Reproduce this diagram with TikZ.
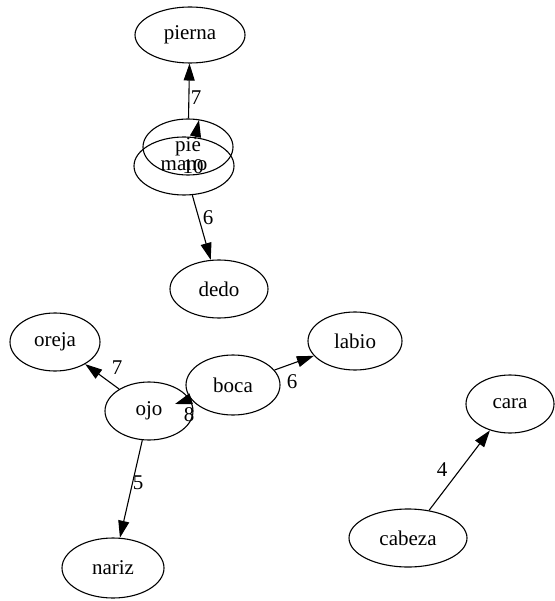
\documentclass[tikz,border=0pt]{standalone}
\usepackage{fontspec}
\setmainfont{Liberation Serif}
\usetikzlibrary{shapes.geometric,arrows.meta}
\begin{document}
\begin{tikzpicture}[x=1pt,y=-1pt,
  nd/.style={draw,ellipse,line width=1.1pt,inner sep=0pt,font=\fontsize{21}{24}\selectfont},
  arr/.style={draw,line width=1.1pt,-{Triangle[length=17pt,width=11pt]}},
  lbl/.style={inner sep=0pt,font=\fontsize{21}{24}\selectfont}]
\useasboundingbox[fill=white] (0,0) rectangle (554,601);
\node[nd,minimum width=110pt,minimum height=56pt] (pierna) at (190,35) {pierna};
\node[nd,minimum width=90pt,minimum height=56pt] (pie) at (188,147) {pie};
\node[nd,minimum width=100pt,minimum height=58pt] (mano) at (184,166) {mano};
\node[nd,minimum width=98pt,minimum height=58pt] (dedo) at (219,289) {dedo};
\node[nd,minimum width=90pt,minimum height=58pt] (oreja) at (55,342) {oreja};
\node[nd,minimum width=88pt,minimum height=58pt] (ojo) at (149,411) {ojo};
\node[nd,minimum width=94pt,minimum height=60pt] (boca) at (233,385) {boca};
\node[nd,minimum width=94pt,minimum height=58pt] (labio) at (355,341) {labio};
\node[nd,minimum width=102pt,minimum height=60pt] (nariz) at (113,568) {nariz};
\node[nd,minimum width=88pt,minimum height=58pt] (cara) at (510,404) {cara};
\node[nd,minimum width=118pt,minimum height=58pt] (cabeza) at (408,538) {cabeza};
\coordinate (mps) at (195,139);
\coordinate (mpt) at (199,120);
\coordinate (bot) at (175,404);
\draw[arr] (pie) -- (pierna);
\draw[arr] (mps) -- (mpt);
\draw[arr] (mano) -- (dedo);
\draw[arr] (ojo) -- (oreja);
\draw[arr] (boca) -- (bot);
\draw[arr] (boca) -- (labio);
\draw[arr] (ojo) -- (nariz);
\draw[arr] (cabeza) -- (cara);
\node[lbl] (l1) at (196,98) {7};
\node[lbl] (l2) at (193,167) {10};
\node[lbl] (l3) at (208,218) {6};
\node[lbl] (l4) at (117,368) {7};
\node[lbl] (l5) at (189,415) {8};
\node[lbl] (l6) at (292,382) {6};
\node[lbl] (l7) at (138,483) {5};
\node[lbl] (l8) at (442,470) {4};
\end{tikzpicture}
\end{document}
